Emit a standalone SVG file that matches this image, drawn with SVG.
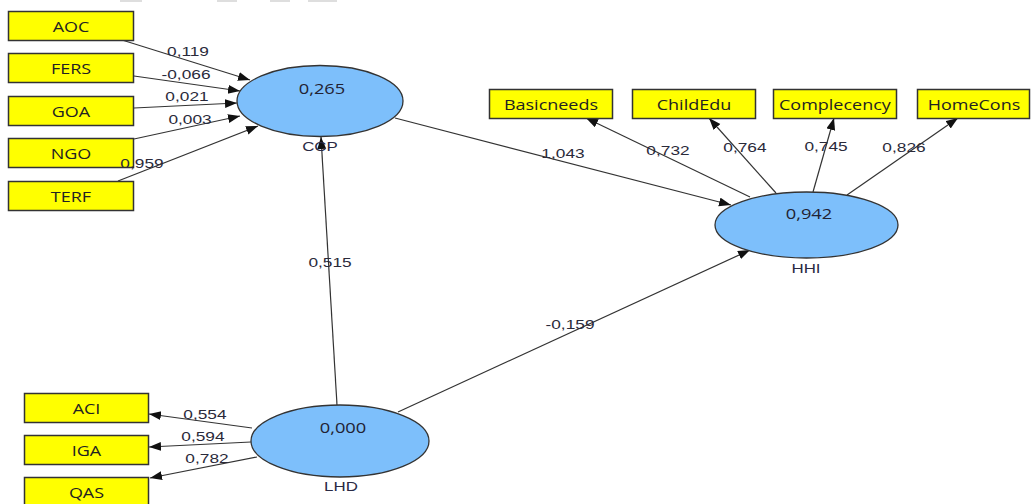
<svg xmlns="http://www.w3.org/2000/svg" width="1031" height="504" viewBox="0 0 1031 504">
<style>
.bg{fill:#ffffff}
.box{fill:#ffff00;stroke:#333333;stroke-width:1.5}
.lv{fill:#7dbffb;stroke:#333333;stroke-width:1.3}
.cn{stroke:#333333;stroke-width:1.2;fill:none;marker-end:url(#ah)}
.bt{font-family:"Open Sans","DejaVu Sans",sans-serif;font-size:15px;fill:#222222;text-anchor:middle;dominant-baseline:central;transform-box:fill-box;transform-origin:center;transform:scaleX(1.2)}
.vt{font-family:"Open Sans","DejaVu Sans",sans-serif;font-size:15px;fill:#222233;text-anchor:middle;dominant-baseline:central;transform-box:fill-box;transform-origin:center;transform:scaleX(1.22)}
.et{font-family:"Liberation Sans",Arial,sans-serif;font-size:13.5px;fill:#2a2a3a;text-anchor:middle;dominant-baseline:central;transform-box:fill-box;transform-origin:center;transform:scaleX(1.28)}
.lt{font-family:"Liberation Sans",Arial,sans-serif;font-size:13px;fill:#2a2a44;text-anchor:middle;dominant-baseline:central;transform-box:fill-box;transform-origin:center;transform:scaleX(1.3)}
.tb{fill:#dedede}
</style>
<defs>
<marker id="ah" markerUnits="userSpaceOnUse" markerWidth="13" markerHeight="10" refX="12" refY="4.5" orient="auto">
<path d="M0,0 L12,4.5 L0,9 Z" fill="#111111"/>
</marker>
</defs>
<rect class="bg" x="0" y="0" width="1031" height="504"/>
<g id="toolbar">
<rect class="tb" x="120" y="0" width="22" height="2"/>
<rect class="tb" x="217" y="0" width="20" height="2"/>
<rect class="tb" x="270" y="0" width="20" height="2"/>
<rect class="tb" x="308" y="0" width="29" height="2"/>
</g>
<g id="connectors">
<path class="cn" d="M122,40 L250,80"/>
<path class="cn" d="M134,76 L240,91"/>
<path class="cn" d="M134,108 L237,103"/>
<path class="cn" d="M134,139 L240,116"/>
<path class="cn" d="M118,181 L258,126"/>
<path class="cn" d="M337,405 L321,137"/>
<path class="cn" d="M395,118 L731,205"/>
<path class="cn" d="M398,412 L750,250"/>
<path class="cn" d="M750,197 L586,118"/>
<path class="cn" d="M776,193 L709,118"/>
<path class="cn" d="M813,192 L834,118"/>
<path class="cn" d="M847,195 L958,118"/>
<path class="cn" d="M252,428 L149,414"/>
<path class="cn" d="M251,442 L149,447"/>
<path class="cn" d="M257,457 L150,478"/>
</g>
<g id="AOC"><rect class="box" x="8.5" y="11.5" width="125" height="29"/><text class="bt" x="71" y="26">AOC</text></g>
<g id="FERS"><rect class="box" x="8.5" y="53.5" width="125" height="29"/><text class="bt" x="71" y="68">FERS</text></g>
<g id="GOA"><rect class="box" x="8.5" y="96.5" width="125" height="29"/><text class="bt" x="71" y="111">GOA</text></g>
<g id="NGO"><rect class="box" x="8.5" y="138.5" width="125" height="29"/><text class="bt" x="71" y="153">NGO</text></g>
<g id="TERF"><rect class="box" x="8.5" y="181.5" width="125" height="29"/><text class="bt" x="71" y="196">TERF</text></g>
<g id="Basicneeds"><rect class="box" x="489.5" y="89.5" width="123" height="29"/><text class="bt" x="551" y="104">Basicneeds</text></g>
<g id="ChildEdu"><rect class="box" x="632.5" y="89.5" width="123" height="29"/><text class="bt" x="694" y="104">ChildEdu</text></g>
<g id="Complecency"><rect class="box" x="773.5" y="89.5" width="123" height="29"/><text class="bt" x="835" y="104">Complecency</text></g>
<g id="HomeCons"><rect class="box" x="917.5" y="89.5" width="112" height="29"/><text class="bt" x="974" y="104">HomeCons</text></g>
<g id="ACI"><rect class="box" x="24.5" y="393.5" width="124" height="29"/><text class="bt" x="86.5" y="408">ACI</text></g>
<g id="IGA"><rect class="box" x="24.5" y="435.5" width="124" height="29"/><text class="bt" x="86.5" y="450">IGA</text></g>
<g id="QAS"><rect class="box" x="24.5" y="477.5" width="124" height="29"/><text class="bt" x="86.5" y="492">QAS</text></g>
<g id="CCP"><ellipse class="lv" cx="320" cy="101" rx="83" ry="35.5"/><text class="vt" x="322" y="88">0,265</text><text class="lt" x="320" y="146">CCP</text></g>
<g id="HHI"><ellipse class="lv" cx="806.5" cy="225" rx="91.5" ry="33"/><text class="vt" x="809" y="213">0,942</text><text class="lt" x="806" y="268">HHI</text></g>
<g id="LHD"><ellipse class="lv" cx="340" cy="441" rx="89" ry="36"/><text class="vt" x="343" y="427">0,000</text><text class="lt" x="341" y="486">LHD</text></g>
<g id="connector-labels">
<text class="et" x="188" y="51">0,119</text>
<text class="et" x="186" y="74">-0,066</text>
<text class="et" x="187" y="96">0,021</text>
<text class="et" x="190" y="119">0,003</text>
<text class="et" x="142" y="163">0,959</text>
<text class="et" x="330" y="262">0,515</text>
<text class="et" x="570" y="324">-0,159</text>
<text class="et" x="563" y="153">1,043</text>
<text class="et" x="668" y="150">0,732</text>
<text class="et" x="745" y="147">0,764</text>
<text class="et" x="826" y="146">0,745</text>
<text class="et" x="904" y="147">0,826</text>
<text class="et" x="205" y="414">0,554</text>
<text class="et" x="203" y="436">0,594</text>
<text class="et" x="207" y="458">0,782</text>
</g>
</svg>
